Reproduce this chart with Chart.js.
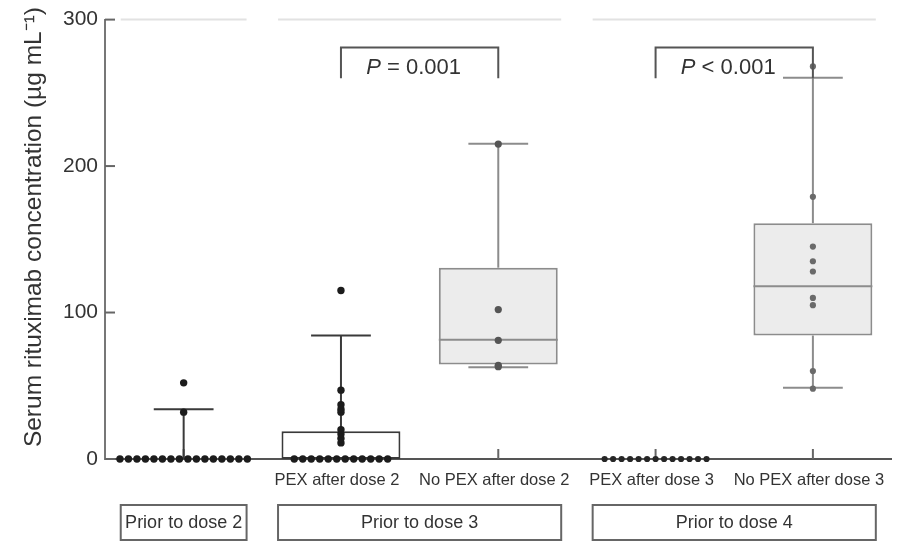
<!DOCTYPE html>
<html>
<head>
<meta charset="utf-8">
<script src="https://cdn.jsdelivr.net/npm/chart.js@4.4.1/dist/chart.umd.min.js"></script>
<style>
  html, body { margin: 0; padding: 0; background: #fff; }
</style>
</head>
<body>
<canvas id="chart" width="901" height="543"></canvas>
<script>
// categories along the x axis
const categories = ['Prior to dose 2', 'PEX after dose 2', 'No PEX after dose 2', 'PEX after dose 3', 'No PEX after dose 3'];
const tickLabels = ['', 'PEX after dose 2', 'No PEX after dose 2', 'PEX after dose 3', 'No PEX after dose 3'];
const yTicks = [0, 100, 200, 300];

// box plot statistics (µg/mL), one value per category
const whiskerLow = [0, 0, 62.7, 0, 48.7];
const q1 = [0, 0, 64.5, 0, 84.3];
const median = [0, 0, 81.4, 0, 118];
const q3 = [0, 19, 130.6, 0, 161];
const whiskerHigh = [34, 84.3, 215.3, 0, 260.3];

// individual patient values
const priorDose2 = [0, 0, 0, 0, 0, 0, 0, 0, 0, 0, 0, 0, 0, 0, 0, 0, 32, 52];
const pexDose2 = [0, 0, 0, 0, 0, 0, 0, 0, 0, 0, 0, 0, 11, 14, 17, 20, 32, 34, 37, 47, 115];
const noPexDose2 = [63, 64, 81, 102, 215];
const pexDose3 = [0, 0, 0, 0, 0, 0, 0, 0, 0, 0, 0, 0, 0];
const noPexDose3 = [48, 60, 105, 110, 128, 135, 145, 179, 268];
const pointsByCategory = [priorDose2, pexDose2, noPexDose2, pexDose3, noPexDose3];

// groups under the axis
const groupLabels = ['Prior to dose 2', 'Prior to dose 3', 'Prior to dose 4'];
const groupFirst = [0, 1, 3];
const groupLast = [0, 2, 4];

// significance brackets
const pairFrom = [1, 3];
const pairTo = [2, 4];
const pairText = [' = 0.001', ' < 0.001'];

// styles
const lineColors = ['#3a3a3a', '#3a3a3a', '#8c8c8c', '#3a3a3a', '#8c8c8c'];
const boxFills = ['#fff', '#fff', '#ececec', '#fff', '#ececec'];
const dotColors = ['#1c1c1c', '#1c1c1c', '#555', '#262626', '#6a6a6a'];
const dotRadius = [3.7, 3.7, 3.6, 3.1, 3.1];
const BOX_W = 0.756;   // share of a category
const CAP = 0.19;      // half width of whisker caps
const DOT_STEP = 0.054;

Chart.defaults.font.family = '"Liberation Sans", Arial, Helvetica, sans-serif';
Chart.defaults.color = '#333';

// spread equal values side by side
function swarm(values, cat) {
    const counts = {};
    values.forEach(v => { counts[v] = (counts[v] || 0) + 1; });
    const seen = {};
    return values.map(v => {
        seen[v] = (seen[v] === undefined) ? 0 : seen[v] + 1;
        return { x: cat + (seen[v] - (counts[v] - 1) / 2) * DOT_STEP, y: v };
    });
}

const boxIdx = categories.map((c, i) => i).filter(i => q3[i] > q1[i]);
const boxData = boxIdx.map(i => ({ x: i, y: [q1[i], q3[i]] }));

const datasets = [{
    type: 'bar',
    data: boxData,
    backgroundColor: boxIdx.map(i => boxFills[i]),
    borderColor: boxIdx.map(i => lineColors[i]),
    borderWidth: 2,
    borderSkipped: false,
    barPercentage: BOX_W,
    categoryPercentage: 1,
    grouped: false,
    order: 5
}];
pointsByCategory.forEach((vals, i) => {
    datasets.push({
        type: 'scatter',
        data: swarm(vals, i),
        pointRadius: dotRadius[i],
        pointBackgroundColor: dotColors[i],
        pointBorderWidth: 0,
        clip: false,
        order: 1
    });
});

// whiskers, caps and medians, drawn right after the boxes
const whiskerPlugin = {
    id: 'whiskers',
    afterDatasetDraw(chart, args) {
        if (args.index !== 0) return;
        const { ctx, scales: { x, y } } = chart;
        const seg = (x1, y1, x2, y2) => { ctx.beginPath(); ctx.moveTo(x1, y1); ctx.lineTo(x2, y2); ctx.stroke(); };
        ctx.save();
        categories.forEach((c, i) => {
            ctx.strokeStyle = lineColors[i];
            ctx.lineWidth = 2;
            const cx = x.getPixelForValue(i);
            const l = x.getPixelForValue(i - CAP), r = x.getPixelForValue(i + CAP);
            if (whiskerHigh[i] > q3[i]) {
                seg(cx, y.getPixelForValue(q3[i]), cx, y.getPixelForValue(whiskerHigh[i]));
                seg(l, y.getPixelForValue(whiskerHigh[i]), r, y.getPixelForValue(whiskerHigh[i]));
            }
            if (whiskerLow[i] < q1[i]) {
                seg(cx, y.getPixelForValue(q1[i]), cx, y.getPixelForValue(whiskerLow[i]));
                seg(l, y.getPixelForValue(whiskerLow[i]), r, y.getPixelForValue(whiskerLow[i]));
            }
            if (q3[i] > q1[i] && median[i] > q1[i]) {
                seg(x.getPixelForValue(i - BOX_W / 2), y.getPixelForValue(median[i]),
                    x.getPixelForValue(i + BOX_W / 2), y.getPixelForValue(median[i]));
            }
        });
        ctx.restore();
    }
};

// inner tick marks, top rules, group boxes and P value brackets
const decorPlugin = {
    id: 'decor',
    beforeDatasetsDraw(chart) {
        const { ctx, scales: { x, y } } = chart;
        ctx.save();
        ctx.strokeStyle = '#666';
        ctx.lineWidth = 2;
        yTicks.forEach(v => {
            const py = y.getPixelForValue(v);
            ctx.beginPath(); ctx.moveTo(x.left, py); ctx.lineTo(x.left + 10, py); ctx.stroke();
        });
        categories.forEach((c, i) => {
            const px = x.getPixelForValue(i);
            ctx.beginPath(); ctx.moveTo(px, y.bottom); ctx.lineTo(px, y.bottom - 10); ctx.stroke();
        });
        // light rules at the top, one per group
        ctx.strokeStyle = '#e2e2e2';
        groupLabels.forEach((g, k) => {
            const py = y.getPixelForValue(300);
            ctx.beginPath();
            ctx.moveTo(x.getPixelForValue(groupFirst[k] - 0.4), py);
            ctx.lineTo(x.getPixelForValue(groupLast[k] + 0.4), py);
            ctx.stroke();
        });
        ctx.restore();
    },
    afterDraw(chart) {
        const { ctx, scales: { x, y } } = chart;
        ctx.save();
        // group boxes
        const top = x.top + 46, h = 35;
        ctx.strokeStyle = '#666';
        ctx.lineWidth = 2;
        ctx.font = '18px "Liberation Sans", Arial, sans-serif';
        ctx.fillStyle = '#333';
        ctx.textAlign = 'center';
        ctx.textBaseline = 'middle';
        groupLabels.forEach((g, k) => {
            const l = x.getPixelForValue(groupFirst[k] - 0.4);
            const r = x.getPixelForValue(groupLast[k] + 0.4);
            ctx.strokeRect(l, top, r - l, h);
            ctx.fillText(g, (l + r) / 2, top + h / 2 + 1);
        });
        // brackets
        ctx.strokeStyle = '#555';
        pairFrom.forEach((a, k) => {
            const l = x.getPixelForValue(a), r = x.getPixelForValue(pairTo[k]);
            const yt = y.getPixelForValue(281), yl = y.getPixelForValue(260);
            ctx.beginPath();
            ctx.moveTo(l, yl); ctx.lineTo(l, yt); ctx.lineTo(r, yt); ctx.lineTo(r, yl);
            ctx.stroke();
            const italic = 'italic 22px "Liberation Sans", Arial, sans-serif';
            const plain = '22px "Liberation Sans", Arial, sans-serif';
            ctx.font = italic; const wp = ctx.measureText('P').width;
            ctx.font = plain; const wt = ctx.measureText(pairText[k]).width;
            let sx = (l + r) / 2 - (wp + wt) / 2 - 6;
            const ty = y.getPixelForValue(267);
            ctx.textAlign = 'left';
            ctx.font = italic; ctx.fillText('P', sx, ty);
            ctx.font = plain; ctx.fillText(pairText[k], sx + wp, ty);
        });
        ctx.restore();
    }
};

new Chart(document.getElementById('chart'), {
    type: 'scatter',
    data: { datasets },
    plugins: [whiskerPlugin, decorPlugin],
    options: {
        responsive: false,
        animation: false,
        layout: { padding: { top: 15, right: 9, bottom: 0, left: 0 } },
        plugins: { legend: { display: false }, tooltip: { enabled: false } },
        scales: {
            x: {
                type: 'linear',
                offset: false,
                min: -0.5,
                max: 4.5,
                afterBuildTicks: s => { s.ticks = categories.map((c, i) => ({ value: i })); },
                afterFit: s => { s.height = 84; },
                grid: { display: false, drawTicks: false, offset: false },
                border: { display: true, color: '#555', width: 2 },
                ticks: {
                    padding: 12,
                    autoSkip: false,
                    maxRotation: 0,
                    labelOffset: -4,
                    color: '#333',
                    font: { size: 16.5 },
                    callback: (v, i) => tickLabels[i]
                }
            },
            y: {
                type: 'linear',
                min: 0,
                max: 300,
                afterBuildTicks: s => { s.ticks = yTicks.map(v => ({ value: v })); },
                afterFit: s => { s.width = 105; },
                grid: { display: false, drawTicks: false },
                border: { display: true, color: '#777', width: 2 },
                ticks: { padding: 7, color: '#333', font: { size: 21 } },
                title: {
                    display: true,
                    // leading em space nudges the rotated title upwards
                    text: '\u2003Serum rituximab concentration (µg mL⁻¹)',
                    color: '#333',
                    font: { size: 24.5 },
                    padding: { top: 20, bottom: 0 }
                }
            }
        }
    }
});
</script>
</body>
</html>
